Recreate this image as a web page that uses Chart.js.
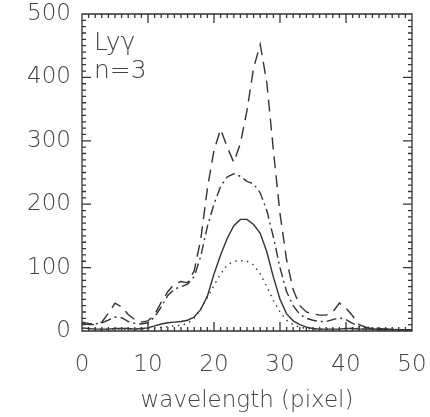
<!DOCTYPE html>
<html>
<head>
<meta charset="utf-8">
<script src="https://cdn.jsdelivr.net/npm/chart.js@4"></script>
<style>
  html, body { margin: 0; padding: 0; background: #fff; }
  #wrap { width: 430px; height: 417px; }
</style>
</head>
<body>
<div id="wrap"><canvas id="c" width="430" height="417"></canvas></div>
<script>
'use strict';

// wavelength pixel positions
const wavelength = [0, 1, 2, 3, 4, 5, 6, 7, 8, 9, 10, 11, 12, 13, 14, 15, 16, 17, 18, 19, 20,
  21, 22, 23, 24, 25, 26, 27, 28, 29, 30, 31, 32, 33, 34, 35, 36, 37, 38, 39, 40,
  41, 42, 43, 44, 45, 46, 47, 48, 49, 50];

// dashed profile
const dashedSeries = [12, 10, 10, 14, 28, 44, 38, 26, 18, 14, 16, 26, 45, 62, 74, 78, 76, 95, 145, 225, 285,
  318, 290, 266, 296, 348, 415, 452, 392, 285, 185, 112, 65, 40, 30, 27, 25, 25, 30, 44, 36,
  24, 10, 6, 5, 4, 3, 3, 2, 2, 2];

// dash-dot profile
const dashDotSeries = [14, 12, 11, 13, 17, 22, 21, 15, 12, 11, 13, 22, 38, 56, 66, 70, 74, 86, 118, 165, 200,
  228, 243, 248, 244, 236, 232, 218, 190, 148, 100, 62, 40, 26, 20, 17, 15, 15, 18, 21, 18,
  12, 7, 5, 4, 4, 3, 3, 2, 2, 2];

// solid profile
const solidSeries = [5, 4, 3, 3, 3, 4, 4, 4, 3, 4, 5, 8, 11, 13, 14, 15, 17, 22, 34, 55, 90,
  120, 146, 166, 176, 176, 168, 154, 125, 85, 50, 27, 16, 10, 6, 4, 3, 3, 3, 3, 4,
  4, 3, 3, 3, 2, 2, 2, 2, 2, 2];

// dotted profile
const dottedSeries = [4, 3, 3, 3, 3, 3, 3, 3, 3, 3, 4, 5, 6, 7, 8, 9, 12, 20, 35, 53, 72,
  90, 104, 110, 111, 110, 104, 90, 70, 48, 30, 17, 10, 6, 4, 3, 3, 3, 3, 3, 4,
  4, 4, 3, 3, 3, 3, 2, 2, 2, 2];

const xTicks = [0, 10, 20, 30, 40, 50];
const yTicks = [0, 100, 200, 300, 400, 500];
const labelLines = ['Ly\u03b3', 'n=3'];

const FONT = "'DejaVu Sans', sans-serif";
const INK = '#333';
const TXT = '#444';

function pts(ys) {
  return wavelength.map((x, i) => ({ x, y: ys[i] }));
}

function lineSet(ys, dash) {
  return {
    data: pts(ys),
    borderColor: INK,
    borderWidth: 1.4,
    borderDash: dash,
    pointRadius: 0,
    tension: 0,
    fill: false,
  };
}

// box with inward major / minor ticks on all four sides
const framePlugin = {
  id: 'frame',
  afterDraw(chart) {
    const { ctx, chartArea: a, scales } = chart;
    const xs = scales.x, ys = scales.y;
    ctx.save();
    ctx.setLineDash([]);
    ctx.globalAlpha = 1;
    ctx.strokeStyle = INK;
    ctx.lineWidth = 1.3;
    ctx.beginPath();
    ctx.rect(a.left, a.top, a.right - a.left, a.bottom - a.top);
    for (let v = 0; v <= 50; v += 1) {
      const px = xs.getPixelForValue(v);
      const len = v % 10 === 0 ? 9 : 4;
      ctx.moveTo(px, a.bottom); ctx.lineTo(px, a.bottom - len);
      ctx.moveTo(px, a.top); ctx.lineTo(px, a.top + len);
    }
    for (let v = 0; v <= 500; v += 10) {
      const py = ys.getPixelForValue(v);
      const len = v % 100 === 0 ? 9 : 4;
      ctx.moveTo(a.left, py); ctx.lineTo(a.left + len, py);
      ctx.moveTo(a.right, py); ctx.lineTo(a.right - len, py);
    }
    ctx.stroke();

    ctx.fillStyle = TXT;
    ctx.font = `200 25px ${FONT}`;
    ctx.textAlign = 'left';
    ctx.textBaseline = 'alphabetic';
    ctx.fillText(labelLines[0], a.left + 12, a.top + 36);
    ctx.fillText(labelLines[1], a.left + 12, a.top + 64);
    ctx.restore();
  },
};

new Chart(document.getElementById('c'), {
  type: 'line',
  data: {
    datasets: [
      lineSet(dashedSeries, [12, 7]),
      lineSet(dashDotSeries, [10, 4, 2, 4]),
      lineSet(solidSeries, []),
      lineSet(dottedSeries, [1.5, 4.5]),
    ],
  },
  options: {
    responsive: false,
    animation: false,
    layout: { padding: { left: 0, right: 18, top: 14, bottom: 0 } },
    plugins: { legend: { display: false }, tooltip: { enabled: false } },
    scales: {
      x: {
        type: 'linear',
        min: 0,
        max: 50,
        afterBuildTicks: (s) => { s.ticks = xTicks.map(v => ({ value: v })); },
        afterFit: (s) => { s.height = 86; s.paddingLeft = 0; s.paddingRight = 0; },
        grid: { display: false, drawTicks: false },
        border: { display: false },
        ticks: {
          color: TXT,
          padding: 20,
          maxRotation: 0,
          font: { family: FONT, size: 23, weight: '200' },
        },
        title: {
          display: true,
          text: 'wavelength (pixel)',
          color: TXT,
          padding: { top: 0, bottom: 2 },
          font: { family: FONT, size: 23, weight: '200' },
        },
      },
      y: {
        type: 'linear',
        min: 0,
        max: 500,
        afterBuildTicks: (s) => { s.ticks = yTicks.map(v => ({ value: v })); },
        afterFit: (s) => { s.width = 82; s.paddingTop = 0; s.paddingBottom = 0; },
        grid: { display: false, drawTicks: false },
        border: { display: false },
        ticks: {
          color: TXT,
          padding: 11,
          font: { family: FONT, size: 23, weight: '200' },
        },
      },
    },
  },
  plugins: [framePlugin],
});
</script>
</body>
</html>
